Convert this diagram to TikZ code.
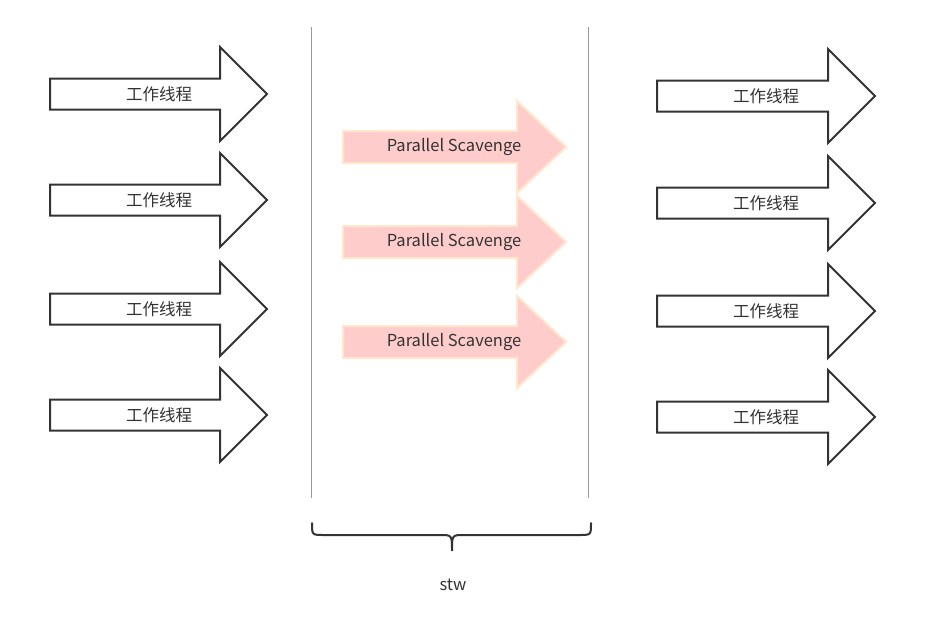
\documentclass[tikz,border=0pt]{standalone}
\usepackage{fontspec}
\setmainfont{Noto Sans CJK SC}
\usepackage{tikz}
\usetikzlibrary{calc}

\definecolor{ink}{HTML}{333333}
\definecolor{rim}{HTML}{999999}
\definecolor{gcfill}{HTML}{FFCCCC}
\definecolor{gcline}{HTML}{FFE6CC}

\tikzset{
  pics/bigarrow/.style n args={4}{code={
    \draw[pic actions] (0,-#3) -- (#1,-#3) -- (#1,-#4) -- ($(#1+#2,0)$) -- (#1,#4) -- (#1,#3) -- (0,#3) -- cycle;
  }},
  worker/.style={draw=ink,line width=2pt,fill=white,line join=miter},
  gc/.style={draw=gcline,line width=2pt,fill=gcfill,line join=miter},
  lbl/.style={text=ink,font=\fontsize{16.5}{19}\selectfont,inner sep=0pt}
}

\begin{document}
\begin{tikzpicture}[x=1pt,y=-1pt]
\useasboundingbox (0,0) rectangle (944,627);

% worker threads before the pause
\pic[worker] at (50,94) {bigarrow={170}{47}{15.5}{47}};
\pic[worker] at (50,200) {bigarrow={170}{47}{15.5}{47}};
\pic[worker] at (50,309) {bigarrow={170}{47}{15.5}{47}};
\pic[worker] at (50,415) {bigarrow={170}{47}{15.5}{47}};
\node[lbl] (L1) at (159,94) {工作线程};
\node[lbl] (L2) at (159,200) {工作线程};
\node[lbl] (L3) at (159,309) {工作线程};
\node[lbl] (L4) at (159,415) {工作线程};

% gc threads
\pic[gc] at (343,147) {bigarrow={174}{49}{16}{46}};
\pic[gc] at (343,242) {bigarrow={174}{49}{16}{46}};
\pic[gc] at (343,342) {bigarrow={174}{49}{16}{46}};
\node[lbl] (G1) at (454,147) {Parallel Scavenge};
\node[lbl] (G2) at (454,242) {Parallel Scavenge};
\node[lbl] (G3) at (454,342) {Parallel Scavenge};

% worker threads after the pause
\pic[worker] at (657,96) {bigarrow={171}{47}{15.5}{47}};
\pic[worker] at (657,203) {bigarrow={171}{47}{15.5}{47}};
\pic[worker] at (657,311) {bigarrow={171}{47}{15.5}{47}};
\pic[worker] at (657,417) {bigarrow={171}{47}{15.5}{47}};
\node[lbl] (R1) at (766,96) {工作线程};
\node[lbl] (R2) at (766,203) {工作线程};
\node[lbl] (R3) at (766,311) {工作线程};
\node[lbl] (R4) at (766,417) {工作线程};

% pause window
\draw[rim,line width=1pt] (311,27) -- (311,498);
\draw[rim,line width=1pt] (588,27) -- (588,498);

\draw[ink,line width=2pt,line cap=round] (312,523) .. controls (312,535) .. (324,535) -- (440,535) .. controls (452,535) .. (452,551) .. controls (452,535) .. (464,535) -- (579,535) .. controls (591,535) .. (591,523);

\node[lbl] (S) at (453,585) {stw};
\end{tikzpicture}
\end{document}
